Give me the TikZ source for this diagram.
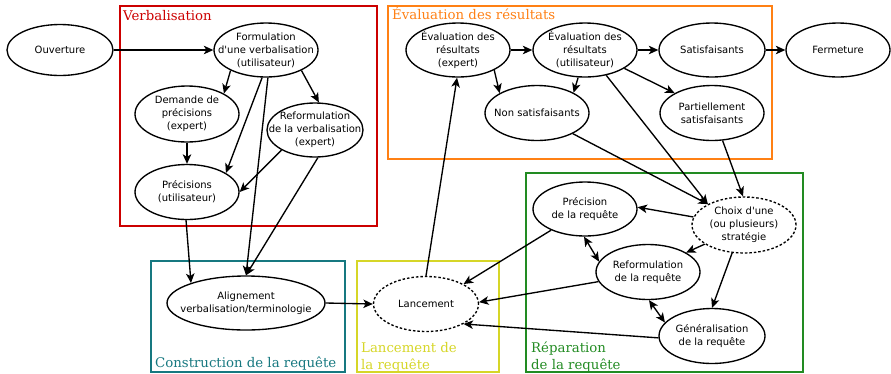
\documentclass[tikz,border=0pt]{standalone}
\usepackage{fontspec}
\setmainfont{DejaVu Sans}
\newfontfamily\labelserif{DejaVu Serif}
\usetikzlibrary{shapes.geometric,arrows.meta}
\definecolor{cRed}{RGB}{204,0,0}
\definecolor{cOrange}{RGB}{255,128,20}
\definecolor{cTeal}{RGB}{22,120,128}
\definecolor{cYellow}{RGB}{214,214,40}
\definecolor{cGreen}{RGB}{34,139,34}
\begin{document}
\begin{tikzpicture}[x=1pt,y=-1pt,
  el/.style={ellipse,draw,line width=1.35pt,inner sep=0pt,minimum width=104pt,minimum height=54pt},
  dsh/.style={dash pattern=on 2.5pt off 2pt},
  txt/.style={align=center,inner sep=0pt,font=\fontsize{10}{13}\selectfont},
  arr/.style={-{Stealth[length=9.5pt,width=8.5pt,inset=2.5pt]},line width=1.35pt},
  darr/.style={{Stealth[length=9.5pt,width=8.5pt,inset=2.5pt]}-{Stealth[length=9.5pt,width=8.5pt,inset=2.5pt]},line width=1.35pt},
  boxr/.style={line width=1.3pt},
  boxlbl/.style={font=\labelserif\fontsize{13.3}{16.7}\selectfont,inner sep=0pt,align=left}
]
\useasboundingbox (0,0) rectangle (891,373);

% group boxes
\draw[boxr,cRed] (120,6) rectangle (377,226);
\draw[boxr,cOrange] (388,6) rectangle (772,159);
\draw[boxr,cTeal] (151,261) rectangle (345,372);
\draw[boxr,cYellow] (357,261) rectangle (499,372);
\draw[boxr,cGreen] (526,173) rectangle (803,372);

\node[boxlbl,text=cRed,anchor=base west] (lv) at (123,20) {Verbalisation};
\node[boxlbl,text=cOrange,anchor=base west] (le) at (392,19) {Évaluation des résultats};
\node[boxlbl,text=cTeal,anchor=base west] (lc) at (155,367) {Construction de la requête};
\node[boxlbl,text=cYellow,anchor=south west] (ll) at (361,372) {Lancement de\\la requête};
\node[boxlbl,text=cGreen,anchor=south west] (lr) at (531,372) {Réparation\\de la requête};

% nodes
\node[el,minimum width=106pt,minimum height=51pt,label={[txt]center:Ouverture}] (ouv) at (60,50) {};
\node[el,label={[txt]center:Formulation\\d\textquotesingle une verbalisation\\(utilisateur)}] (form) at (266,50) {};
\node[el,minimum height=56pt,label={[txt]center:Demande de\\précisions\\(expert)}] (dem) at (187,114) {};
\node[el,minimum width=96pt,label={[txt]center:Reformulation\\de la verbalisation\\(expert)}] (refv) at (315,130) {};
\node[el,minimum height=55pt,label={[txt]center:Précisions\\(utilisateur)}] (precu) at (187,192) {};
\node[el,minimum width=158pt,label={[txt]center:Alignement\\verbalisation/terminologie}] (align) at (246,303) {};
\node[el,dsh,minimum width=105pt,minimum height=55pt,label={[txt]center:Lancement}] (lanc) at (426,304) {};
\node[el,label={[txt]center:Évaluation des\\résultats\\(expert)}] (eve) at (458,50) {};
\node[el,label={[txt]center:Évaluation des\\résultats\\(utilisateur)}] (evu) at (585,50) {};
\node[el,minimum width=106pt,label={[txt]center:Satisfaisants}] (sat) at (712,50) {};
\node[el,label={[txt]center:Fermeture}] (fer) at (838,50) {};
\node[el,minimum height=55pt,label={[txt]center:Non satisfaisants}] (non) at (537,113) {};
\node[el,minimum height=55pt,label={[txt]center:Partiellement\\satisfaisants}] (part) at (712,113) {};
\node[el,label={[txt]center:Précision\\de la requête}] (precr) at (585,209) {};
\node[el,dsh,minimum height=56pt,label={[txt]center:Choix d\textquotesingle une\\(ou plusieurs)\\stratégie}] (choix) at (744,225) {};
\node[el,minimum height=55pt,label={[txt]center:Reformulation\\de la requête}] (refr) at (648,272) {};
\node[el,minimum width=106pt,minimum height=55pt,label={[txt]center:Généralisation\\de la requête}] (gen) at (712,336) {};

% connectors
\draw[arr] (ouv) -- (form);
\draw[arr] (form.210) -- (dem.29);
\draw[arr] (form.262) -- (precu.26);
\draw[arr] (form.274) -- (align.90);
\draw[arr] (form.330) -- (refv.82);
\draw[arr] (dem.south) -- (precu.north);
\draw[arr] (refv.211) -- (precu.east);
\draw[arr] (refv.276) -- (align.90);
\draw[arr] (precu.268) -- (align.160);
\draw[arr] (align.east) -- (lanc.west);
\draw[arr] (lanc.90) -- (eve.268);
\draw[arr] (eve) -- (evu);
\draw[arr] (eve.331) -- (non.152);
\draw[arr] (evu.256) -- (non.29);
\draw[arr] (evu) -- (sat);
\draw[arr] (evu.335) -- (part.152);
\draw[arr] (evu.310) -- (choix.150);
\draw[arr] (sat) -- (fer);
\draw[arr] (non.330) -- (choix.150);
\draw[arr] (part.291) -- (choix.92);
\draw[arr] (choix.171) -- (precr.2);
\draw[arr] (choix.206) -- (refr.27);
\draw[arr] (choix.247) -- (gen.90);
\draw[darr] (precr.268) -- (refr.168);
\draw[darr] (refr.272) -- (gen.164);
\draw[arr] (precr.212) -- (lanc.28);
\draw[arr] (refr.191) -- (lanc.2);
\draw[arr] (gen.182) -- (lanc.332);
\end{tikzpicture}
\end{document}
